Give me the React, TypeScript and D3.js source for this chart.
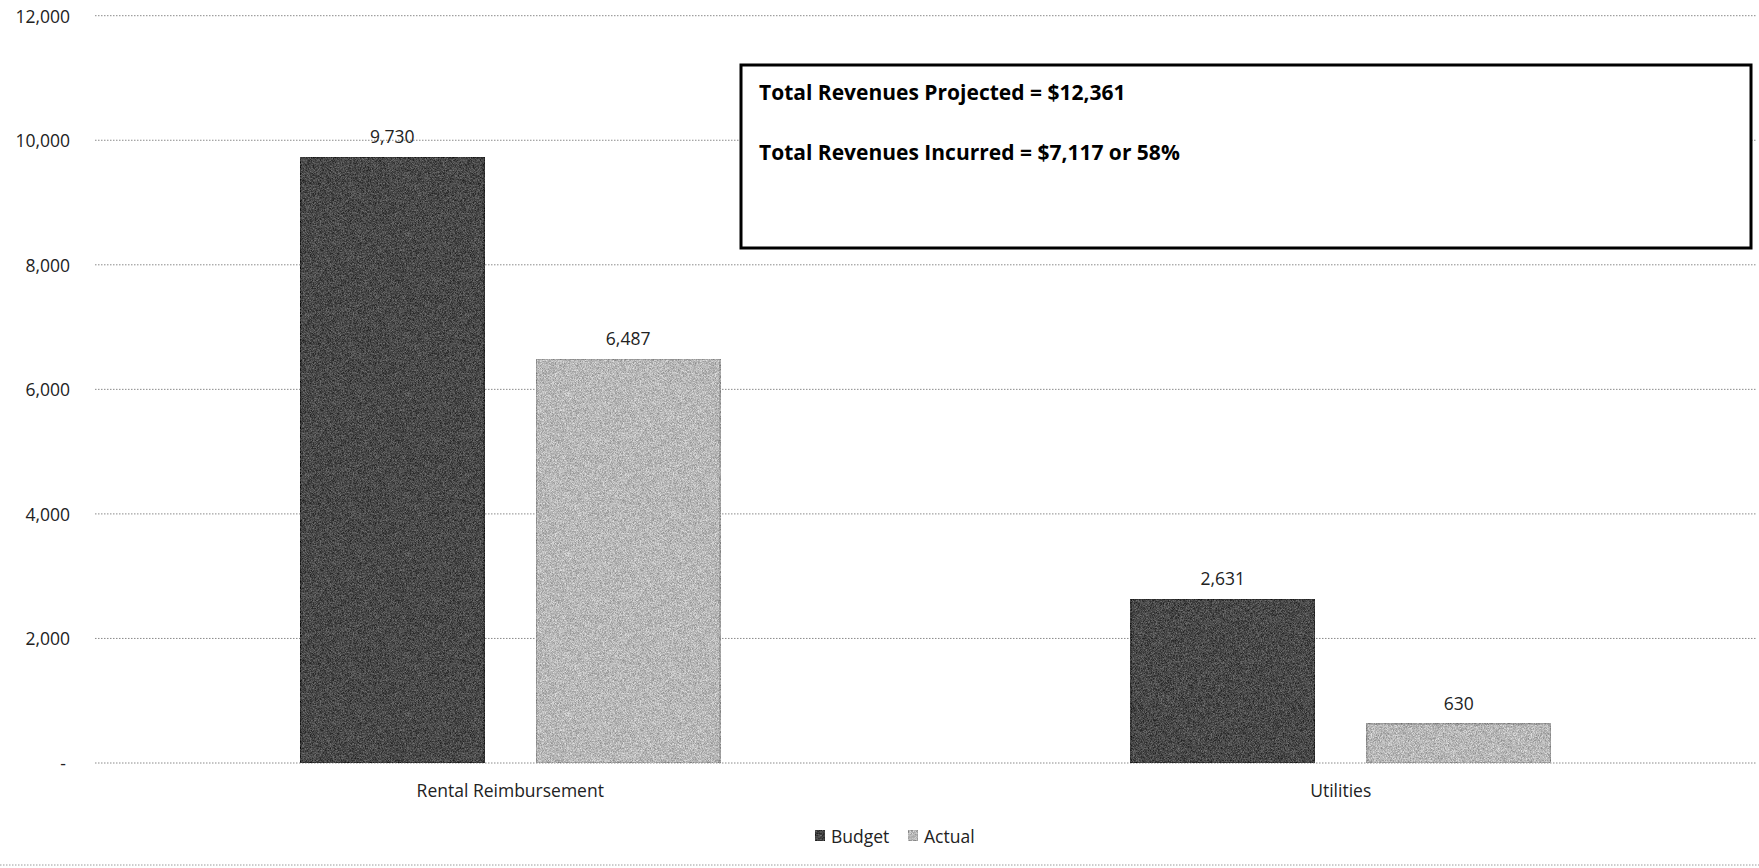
import React from "react";
import * as d3 from "d3";

const categories = ["Rental Reimbursement", "Utilities"];
const seriesNames = ["Budget", "Actual"];
const budgetValues = [9730, 2631];
const actualValues = [6487, 630];
const yTicks = [0, 2000, 4000, 6000, 8000, 10000, 12000];
const boxLines = [
  "Total Revenues Projected = $12,361",
  "Total Revenues Incurred = $7,117 or 58%",
];

const W = 1759;
const H = 868;
const FONT = "'Open Sans', 'Noto Sans', sans-serif";
const fills: Record<string, string> = { Budget: "#2c2c2c", Actual: "#d6d6d6" };
const strokes: Record<string, string> = { Budget: "#000", Actual: "#a0a0a0" };

export default function App() {
  const y = d3.scaleLinear().domain([0, 12000]).range([763, 15.7]);
  const x0 = d3.scaleBand<string>().domain(categories).range([95, 1756]).padding(0);
  const x1 = d3
    .scaleBand<string>()
    .domain(seriesNames)
    .range([0, x0.bandwidth()])
    .paddingInner(0.22)
    .paddingOuter(0.871);
  const fmt = d3.format(",");
  const valuesBySeries: Record<string, number[]> = { Budget: budgetValues, Actual: actualValues };
  const fs = 17.5;

  return (
    <svg
      width={W}
      height={H}
      style={{ position: "absolute", left: 0, top: 0, background: "#fff" }}
      fontFamily={FONT}
    >
      <defs>
        <filter
          id="grain"
          x="0"
          y="0"
          width="100%"
          height="100%"
          colorInterpolationFilters="sRGB"
        >
          <feTurbulence type="fractalNoise" baseFrequency="1.6" numOctaves="1" seed="3" result="n" />
          <feColorMatrix
            in="n"
            type="matrix"
            values="1.8 0 0 0 -0.4  1.8 0 0 0 -0.4  1.8 0 0 0 -0.4  0 0 0 0 0.35"
            result="g"
          />
          <feComposite in="g" in2="SourceGraphic" operator="in" result="gc" />
          <feMerge>
            <feMergeNode in="SourceGraphic" />
            <feMergeNode in="gc" />
          </feMerge>
        </filter>
      </defs>
      {/* gridlines */}
      {yTicks.map((t) => (
        <line
          key={t}
          x1={95}
          x2={1756}
          y1={y(t)}
          y2={y(t)}
          stroke="#8a8a8a"
          strokeWidth={1}
          strokeDasharray="1.5,1.5"
        />
      ))}
      {/* y labels */}
      {yTicks.map((t) => (
        <text
          key={"l" + t}
          x={t === 0 ? 66 : 70}
          y={y(t)}
          textAnchor="end"
          dominantBaseline="central"
          fontSize={fs}
          fill="#222"
        >
          {t === 0 ? "-" : fmt(t)}
        </text>
      ))}
      {/* bars */}
      {categories.map((c, i) => (
        <g key={c} transform={`translate(${x0(c)},0)`}>
          {seriesNames.map((s) => {
            const v = valuesBySeries[s][i];
            const bx = x1(s)!;
            const bw = x1.bandwidth();
            return (
              <g key={s}>
                <rect
                  x={bx}
                  y={y(v)}
                  width={bw}
                  height={y(0) - y(v)}
                  fill={fills[s]}
                  stroke={strokes[s]}
                  strokeWidth={1.5}
                  filter="url(#grain)"
                />
                <text
                  x={bx + bw / 2}
                  y={y(v) - 21}
                  textAnchor="middle"
                  dominantBaseline="central"
                  fontSize={fs}
                  fill="#222"
                >
                  {fmt(v)}
                </text>
              </g>
            );
          })}
          <text
            x={x0.bandwidth() / 2}
            y={790}
            textAnchor="middle"
            dominantBaseline="central"
            fontSize={fs}
            fill="#222"
          >
            {c}
          </text>
        </g>
      ))}
      {/* legend */}
      {seriesNames.map((s, i) => {
        const lx = [815, 908][i];
        return (
          <g key={"lg" + s}>
            <rect
              x={lx}
              y={830}
              width={10}
              height={11}
              fill={fills[s]}
              stroke={strokes[s]}
              strokeWidth={1}
              filter="url(#grain)"
            />
            <text x={lx + 16} y={836} dominantBaseline="central" fontSize={fs} fill="#222">
              {s}
            </text>
          </g>
        );
      })}
      {/* bottom border */}
      <line x1={0} x2={W} y1={865} y2={865} stroke="#9a9a9a" strokeWidth={1} strokeDasharray="1.5,1.5" />
      {/* text box */}
      <rect x={741} y={65} width={1010} height={183} fill="#fff" stroke="#000" strokeWidth={3} />
      {boxLines.map((t, i) => (
        <text
          key={t}
          x={759}
          y={[92, 151.5][i]}
          dominantBaseline="central"
          fontSize={21}
          fontWeight="bold"
          fill="#000"
        >
          {t}
        </text>
      ))}
    </svg>
  );
}
